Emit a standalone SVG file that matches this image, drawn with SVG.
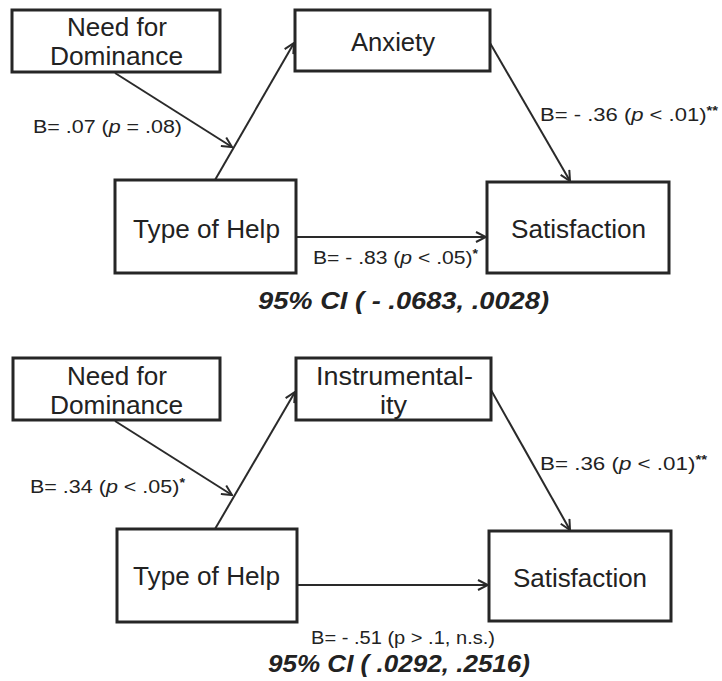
<svg xmlns="http://www.w3.org/2000/svg" width="722" height="681" viewBox="0 0 722 681">
<style>
.box{fill:#fff;stroke:#262626;stroke-width:3}
.t{font-family:"Liberation Sans",Arial,sans-serif;font-size:25px;fill:#222}
.l{font-family:"Liberation Sans",Arial,sans-serif;font-size:18px;fill:#222}
.ci{font-family:"Liberation Sans",Arial,sans-serif;font-size:23px;font-weight:bold;font-style:italic;fill:#222}
.e{stroke:#2a2a2a;stroke-width:2;fill:none;marker-end:url(#ah)}
.sup{font-size:12px;font-weight:bold}
</style>
<defs>
<marker id="ah" viewBox="0 0 12 12" refX="11" refY="6" markerWidth="12" markerHeight="12" markerUnits="userSpaceOnUse" orient="auto">
<path d="M1,1 L11,6 L1,11" fill="none" stroke="#2a2a2a" stroke-width="2"/>
</marker>
</defs>
<rect width="722" height="681" fill="#fff"/>
<g id="connectors">
<line class="e" x1="115" y1="73" x2="232" y2="147"/>
<line class="e" x1="215" y1="180" x2="294" y2="43"/>
<line class="e" x1="490" y1="43" x2="570" y2="181"/>
<line class="e" x1="296" y1="237" x2="486" y2="237"/>
<line class="e" x1="115" y1="421" x2="232" y2="495"/>
<line class="e" x1="215" y1="529" x2="295" y2="392"/>
<line class="e" x1="491" y1="390" x2="570" y2="530"/>
<line class="e" x1="297" y1="585" x2="488" y2="585"/>
</g>
<g id="dominance1"><rect class="box" x="12" y="10" width="208" height="62"/>
<text class="t" x="67" y="36" textLength="100" lengthAdjust="spacingAndGlyphs">Need for</text>
<text class="t" x="50" y="65" textLength="133" lengthAdjust="spacingAndGlyphs">Dominance</text></g>
<g id="anxiety"><rect class="box" x="295" y="10" width="195" height="61"/>
<text class="t" x="351" y="51" textLength="84" lengthAdjust="spacingAndGlyphs">Anxiety</text></g>
<g id="help1"><rect class="box" x="115" y="180" width="181" height="93"/>
<text class="t" x="133" y="238" textLength="147" lengthAdjust="spacingAndGlyphs">Type of Help</text></g>
<g id="satisfaction1"><rect class="box" x="487" y="182" width="182" height="91"/>
<text class="t" x="511" y="238" textLength="135" lengthAdjust="spacingAndGlyphs">Satisfaction</text></g>
<g id="labels1">
<text class="l" x="33" y="133" textLength="149" lengthAdjust="spacingAndGlyphs">B= .07 (<tspan font-style="italic">p</tspan> = .08)</text>
<text class="l" x="540" y="121" textLength="178" lengthAdjust="spacingAndGlyphs">B= - .36 (<tspan font-style="italic">p</tspan> &lt; .01)<tspan class="sup" dy="-6">**</tspan></text>
<text class="l" x="313" y="264" textLength="165" lengthAdjust="spacingAndGlyphs">B= - .83 (<tspan font-style="italic">p</tspan> &lt; .05)<tspan class="sup" dy="-6">*</tspan></text>
<text class="ci" x="258" y="309" textLength="291" lengthAdjust="spacingAndGlyphs">95% CI ( - .0683, .0028)</text>
</g>
<g id="dominance2"><rect class="box" x="13" y="358" width="207" height="62"/>
<text class="t" x="67" y="385" textLength="100" lengthAdjust="spacingAndGlyphs">Need for</text>
<text class="t" x="50" y="414" textLength="133" lengthAdjust="spacingAndGlyphs">Dominance</text></g>
<g id="instrumentality"><rect class="box" x="296" y="358" width="195" height="62"/>
<text class="t" x="316" y="385" textLength="157" lengthAdjust="spacingAndGlyphs">Instrumental-</text>
<text class="t" x="380" y="414" textLength="27" lengthAdjust="spacingAndGlyphs">ity</text></g>
<g id="help2"><rect class="box" x="117" y="529" width="180" height="93"/>
<text class="t" x="133" y="585" textLength="147" lengthAdjust="spacingAndGlyphs">Type of Help</text></g>
<g id="satisfaction2"><rect class="box" x="489" y="531" width="182" height="90"/>
<text class="t" x="513" y="587" textLength="134" lengthAdjust="spacingAndGlyphs">Satisfaction</text></g>
<g id="labels2">
<text class="l" x="30" y="493" textLength="155" lengthAdjust="spacingAndGlyphs">B= .34 (<tspan font-style="italic">p</tspan> &lt; .05)<tspan class="sup" dy="-6">*</tspan></text>
<text class="l" x="540" y="470" textLength="167" lengthAdjust="spacingAndGlyphs">B= .36 (<tspan font-style="italic">p</tspan> &lt; .01)<tspan class="sup" dy="-6">**</tspan></text>
<text class="l" x="311" y="644" textLength="184" lengthAdjust="spacingAndGlyphs">B= - .51 (p &gt; .1, n.s.)</text>
<text class="ci" x="268" y="672" textLength="262" lengthAdjust="spacingAndGlyphs">95% CI ( .0292, .2516)</text>
</g>
</svg>
